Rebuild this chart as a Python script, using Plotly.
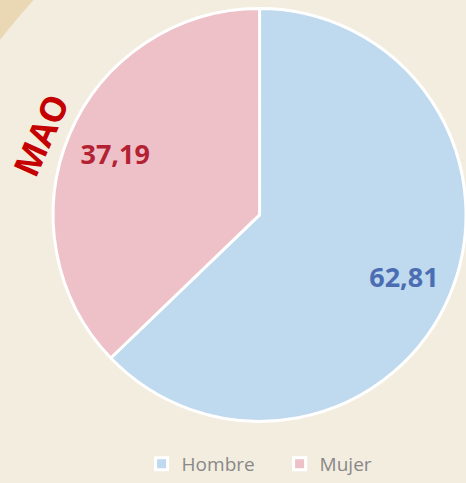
import plotly.graph_objects as go

categories = ["Hombre", "Mujer"]
values = [62.81, 37.19]
value_labels = ["62,81", "37,19"]

slice_colors = ["#bfd9ee", "#eec0c8"]
label_colors = ["#4a6db3", "#b32232"]

domain = dict(x=[0.114, 1.0], y=[0.126, 0.984])

fig = go.Figure()
# main pie (slices + legend)
fig.add_trace(go.Pie(
    labels=categories,
    values=values,
    textinfo="none",
    marker=dict(colors=slice_colors, line=dict(color="#ffffff", width=3)),
    sort=False,
    direction="clockwise",
    rotation=0,
    domain=domain,
    hoverinfo="label+value",
))
# transparent overlay ring used only to place the value labels further out
fig.add_trace(go.Pie(
    labels=categories,
    values=values,
    text=value_labels,
    textinfo="text",
    textposition="inside",
    insidetextorientation="horizontal",
    textfont=dict(family="Open Sans", size=27, color=label_colors, weight="bold"),
    marker=dict(colors=["rgba(0,0,0,0)", "rgba(0,0,0,0)"], line=dict(width=0)),
    sort=False,
    direction="clockwise",
    rotation=0,
    hole=0.52,
    domain=domain,
    showlegend=False,
    hoverinfo="skip",
))

fig.update_layout(
    width=466, height=483,
    margin=dict(l=0, r=0, t=0, b=0),
    paper_bgcolor="#f3ede0",
    plot_bgcolor="#f3ede0",
    showlegend=True,
    legend=dict(
        orientation="h", x=0.6, xanchor="center", y=0.0, yanchor="bottom",
        font=dict(family="Open Sans", size=19, color="#888888"),
        itemwidth=30, entrywidth=93, bgcolor="rgba(0,0,0,0)",
    ),
    shapes=[dict(
        type="path", xref="paper", yref="paper",
        path="M 0 1 L 0.072 1 Q 0.03 0.955 0 0.917 Z",
        fillcolor="#ead8b4", line=dict(width=0), layer="below",
    )],
    annotations=[dict(
        text="<b>MAO</b>", x=0.086, y=0.72, xref="paper", yref="paper",
        xanchor="center", yanchor="middle",
        showarrow=False, textangle=-66,
        font=dict(family="Open Sans", size=35, color="#c40000"),
    )],
)

fig.write_html("out.html", config={"displayModeBar": False},
               post_script="document.body.style.margin='0px';")
